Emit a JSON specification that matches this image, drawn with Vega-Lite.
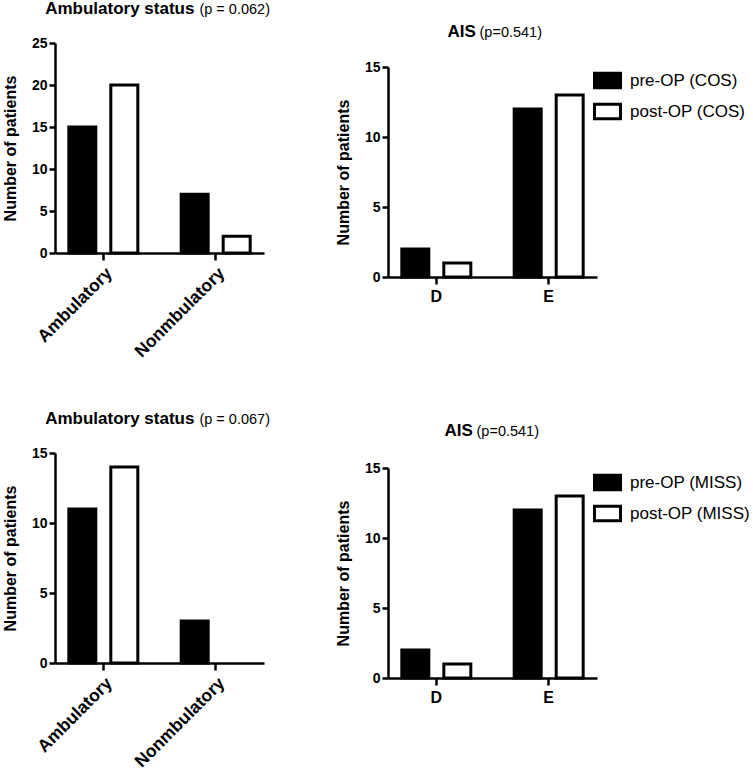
{
  "$schema": "https://vega.github.io/schema/vega-lite/v6.json",
  "padding": {"top": 0, "left": 2, "right": 0, "bottom": 0},
  "background": "white",
  "config": {
    "font": "Liberation Sans",
    "view": {"stroke": null},
    "axis": {"domainColor": "#000", "domainWidth": 2.5, "tickColor": "#000", "tickWidth": 2.5, "tickSize": 7, "labelColor": "#000", "labelFontWeight": "bold", "labelFont": "Liberation Sans", "titleColor": "#000", "titleFontWeight": "bold", "titleFontSize": 16, "titleFont": "Liberation Sans", "grid": false, "titlePadding": 13},
    "axisY": {"labelFontSize": 14, "tickSize": 6, "labelPadding": 2},
    "axisX": {"labelFontSize": 16, "labelPadding": 4},
    "bar": {"stroke": "#000", "strokeWidth": 3},
    "legend": {"labelFontSize": 17, "labelColor": "#000", "labelFont": "Liberation Sans", "symbolType": "M-1,-0.55H1V0.55H-1Z", "symbolSize": 676, "symbolStrokeColor": "#000", "symbolStrokeWidth": 2.5, "labelOffset": 8, "offset": -4, "padding": 0, "rowPadding": 3, "labelLimit": 300},
    "title": {"font": "Liberation Sans", "fontSize": 17, "fontWeight": "bold", "color": "#000", "subtitleFont": "Liberation Sans", "subtitleFontSize": 14.5, "subtitleColor": "#000", "subtitleFontWeight": "normal", "subtitlePadding": -15, "anchor": "end", "frame": "group", "offset": 18}
  },
  "resolve": {"scale": {"fill": "independent"}, "legend": {"fill": "independent"}},
  "spacing": 65,
  "hconcat": [
    {
      "spacing": 49,
      "resolve": {"scale": {"fill": "independent"}, "legend": {"fill": "independent"}},
      "vconcat": [
        {
          "width": 209, "height": 210,
          "title": {"text": "Ambulatory status\u00a0\u00a0\u00a0\u00a0\u00a0\u00a0\u00a0\u00a0\u00a0\u00a0\u00a0\u00a0\u00a0\u00a0\u00a0\u00a0\u200b", "subtitle": "(p = 0.062)", "dx": 6},
          "data": {"values": [
            {"cat": "Ambulatory", "t": "pre", "g": "pre-OP (COS)", "n": 15},
            {"cat": "Ambulatory", "t": "post", "g": "post-OP (COS)", "n": 20},
            {"cat": "Nonmbulatory", "t": "pre", "g": "pre-OP (COS)", "n": 7},
            {"cat": "Nonmbulatory", "t": "post", "g": "post-OP (COS)", "n": 2}
          ]},
          "mark": {"type": "bar"},
          "encoding": {
            "x": {"field": "cat", "type": "nominal", "sort": ["Ambulatory", "Nonmbulatory"], "scale": {"paddingInner": 0.386, "paddingOuter": 0.123}, "axis": {"title": null, "labelAngle": -45, "labelFontSize": 17.5}},
            "xOffset": {"field": "t", "type": "nominal", "sort": ["pre", "post"], "scale": {"paddingInner": 0.357, "paddingOuter": 0}},
            "y": {"field": "n", "type": "quantitative", "scale": {"domain": [0, 25], "nice": false}, "axis": {"title": "Number of patients", "values": [0, 5, 10, 15, 20, 25]}},
            "fill": {"field": "g", "type": "nominal", "scale": {"domain": ["pre-OP (COS)", "post-OP (COS)"], "range": ["#000", "#fff"]}, "legend": null},
            "strokeOpacity": {"condition": {"test": "datum.n == 0", "value": 0}, "value": 1}
          }
        },
        {
          "width": 209, "height": 210,
          "title": {"text": "Ambulatory status\u00a0\u00a0\u00a0\u00a0\u00a0\u00a0\u00a0\u00a0\u00a0\u00a0\u00a0\u00a0\u00a0\u00a0\u00a0\u00a0\u200b", "subtitle": "(p = 0.067)", "dx": 6},
          "data": {"values": [
            {"cat": "Ambulatory", "t": "pre", "g": "pre-OP (MISS)", "n": 11},
            {"cat": "Ambulatory", "t": "post", "g": "post-OP (MISS)", "n": 14},
            {"cat": "Nonmbulatory", "t": "pre", "g": "pre-OP (MISS)", "n": 3},
            {"cat": "Nonmbulatory", "t": "post", "g": "post-OP (MISS)", "n": 0}
          ]},
          "mark": {"type": "bar"},
          "encoding": {
            "x": {"field": "cat", "type": "nominal", "sort": ["Ambulatory", "Nonmbulatory"], "scale": {"paddingInner": 0.386, "paddingOuter": 0.123}, "axis": {"title": null, "labelAngle": -45, "labelFontSize": 17.5}},
            "xOffset": {"field": "t", "type": "nominal", "sort": ["pre", "post"], "scale": {"paddingInner": 0.357, "paddingOuter": 0}},
            "y": {"field": "n", "type": "quantitative", "scale": {"domain": [0, 15], "nice": false}, "axis": {"title": "Number of patients", "values": [0, 5, 10, 15]}},
            "fill": {"field": "g", "type": "nominal", "scale": {"domain": ["pre-OP (MISS)", "post-OP (MISS)"], "range": ["#000", "#fff"]}, "legend": null},
            "strokeOpacity": {"condition": {"test": "datum.n == 0", "value": 0}, "value": 1}
          }
        }
      ]
    },
    {
      "spacing": 118,
      "resolve": {"scale": {"fill": "independent"}, "legend": {"fill": "independent"}},
      "vconcat": [
        {
          "width": 209, "height": 234,
          "title": {"text": "AIS\u00a0\u00a0\u00a0\u00a0\u00a0\u00a0\u00a0\u00a0\u00a0\u00a0\u00a0\u00a0\u00a0\u00a0\u200b", "subtitle": "(p=0.541)", "dx": -55, "offset": 2},
          "data": {"values": [
            {"cat": "D", "t": "pre", "g": "pre-OP (COS)", "n": 2},
            {"cat": "D", "t": "post", "g": "post-OP (COS)", "n": 1},
            {"cat": "E", "t": "pre", "g": "pre-OP (COS)", "n": 12},
            {"cat": "E", "t": "post", "g": "post-OP (COS)", "n": 13}
          ]},
          "mark": {"type": "bar"},
          "encoding": {
            "x": {"field": "cat", "type": "nominal", "sort": ["D", "E"], "scale": {"paddingInner": 0.386, "paddingOuter": 0.123}, "axis": {"title": null, "labelAngle": 0}},
            "xOffset": {"field": "t", "type": "nominal", "sort": ["pre", "post"], "scale": {"paddingInner": 0.357, "paddingOuter": 0}},
            "y": {"field": "n", "type": "quantitative", "scale": {"domain": [0, 15], "nice": false, "range": [234, 24]}, "axis": {"title": "Number of patients", "values": [0, 5, 10, 15]}},
            "fill": {"field": "g", "type": "nominal", "scale": {"domain": ["pre-OP (COS)", "post-OP (COS)"], "range": ["#000", "#fff"]}, "legend": {"title": "\u200b", "titleFontSize": 10, "titlePadding": 13, "orient": "right"}}
          }
        },
        {
          "width": 209, "height": 210,
          "title": {"text": "AIS\u00a0\u00a0\u00a0\u00a0\u00a0\u00a0\u00a0\u00a0\u00a0\u00a0\u00a0\u00a0\u00a0\u00a0\u200b", "subtitle": "(p=0.541)", "dx": -58, "offset": 21},
          "data": {"values": [
            {"cat": "D", "t": "pre", "g": "pre-OP (MISS)", "n": 2},
            {"cat": "D", "t": "post", "g": "post-OP (MISS)", "n": 1},
            {"cat": "E", "t": "pre", "g": "pre-OP (MISS)", "n": 12},
            {"cat": "E", "t": "post", "g": "post-OP (MISS)", "n": 13}
          ]},
          "mark": {"type": "bar"},
          "encoding": {
            "x": {"field": "cat", "type": "nominal", "sort": ["D", "E"], "scale": {"paddingInner": 0.386, "paddingOuter": 0.123}, "axis": {"title": null, "labelAngle": 0}},
            "xOffset": {"field": "t", "type": "nominal", "sort": ["pre", "post"], "scale": {"paddingInner": 0.357, "paddingOuter": 0}},
            "y": {"field": "n", "type": "quantitative", "scale": {"domain": [0, 15], "nice": false}, "axis": {"title": "Number of patients", "values": [0, 5, 10, 15]}},
            "fill": {"field": "g", "type": "nominal", "scale": {"domain": ["pre-OP (MISS)", "post-OP (MISS)"], "range": ["#000", "#fff"]}, "legend": {"title": null, "orient": "right"}}
          }
        }
      ]
    }
  ]
}
